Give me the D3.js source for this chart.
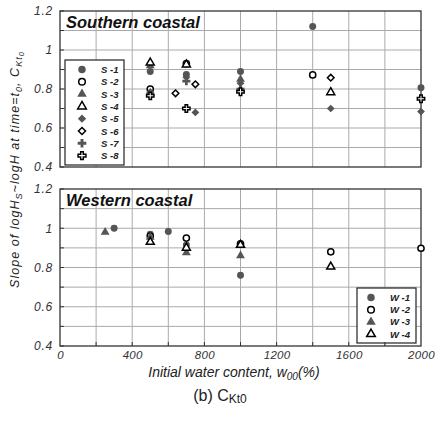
<!DOCTYPE html>
<html><head><meta charset="utf-8">
<script src="https://cdn.jsdelivr.net/npm/d3@7"></script>
<style>
body{margin:0;background:#fff;}
svg{display:block;font-family:Arial,"Liberation Sans",sans-serif;}
</style></head>
<body><svg id="c" width="437" height="421"></svg>
<script>
// ---------- data ----------
const xTicks = [0, 400, 800, 1200, 1600, 2000];
const yTicks = [0.4, 0.6, 0.8, 1, 1.2];
const southNames = ["S-1","S-2","S-3","S-4","S-5","S-6","S-7","S-8"];
const S1 = [[500,0.89],[700,0.875],[1000,0.89],[1400,1.12],[2000,0.807]];
const S2 = [[500,0.80],[700,0.93],[1400,0.872]];
const S3 = [[500,0.92],[1000,0.85]];
const S4 = [[500,0.935],[700,0.925],[1500,0.783]];
const S5 = [[500,0.785],[700,0.86],[750,0.68],[1000,0.83],[1500,0.70],[2000,0.684]];
const S6 = [[640,0.778],[750,0.824],[1500,0.858]];
const S7 = [[500,0.775],[700,0.84],[1000,0.80],[2000,0.749]];
const S8 = [[500,0.765],[700,0.70],[1000,0.786],[2000,0.75]];
const westNames = ["W-1","W-2","W-3","W-4"];
const W1 = [[300,1.0],[500,0.97],[600,0.983],[700,0.915],[1000,0.76]];
const W2 = [[500,0.96],[700,0.95],[1000,0.92],[1500,0.88],[2000,0.898]];
const W3 = [[250,0.98],[500,0.955],[700,0.875],[1000,0.86]];
const W4 = [[500,0.93],[700,0.90],[1000,0.915],[1500,0.804]];

// ---------- styles ----------
const FILL = "#555";
const squareDiamond = {
  draw(ctx, size){
    const r = Math.sqrt(size/2);
    ctx.moveTo(0,-r); ctx.lineTo(r,0); ctx.lineTo(0,r); ctx.lineTo(-r,0); ctx.closePath();
  }
};
const markerStyle = {
  "S-1":{t:d3.symbolCircle,s:38,f:FILL,st:"none"},
  "S-2":{t:d3.symbolCircle,s:30,f:"#fff",st:"#000"},
  "S-3":{t:d3.symbolTriangle,s:34,f:FILL,st:"none"},
  "S-4":{t:d3.symbolTriangle,s:28,f:"#fff",st:"#000"},
  "S-5":{t:squareDiamond,s:30,f:FILL,st:"none"},
  "S-6":{t:squareDiamond,s:22,f:"#fff",st:"#000"},
  "S-7":{t:d3.symbolCross,s:36,f:FILL,st:"none"},
  "S-8":{t:d3.symbolCross,s:30,f:"#fff",st:"#000"},
  "W-1":{t:d3.symbolCircle,s:38,f:FILL,st:"none"},
  "W-2":{t:d3.symbolCircle,s:30,f:"#fff",st:"#000"},
  "W-3":{t:d3.symbolTriangle,s:34,f:FILL,st:"none"},
  "W-4":{t:d3.symbolTriangle,s:28,f:"#fff",st:"#000"}
};

const svg = d3.select("#c");
const X0 = 60, X1 = 421;
const x = d3.scaleLinear().domain([0,2000]).range([X0,X1]);

function panel(top, bottom, title, names, data, legendBox){
  const y = d3.scaleLinear().domain([0.4,1.2]).range([bottom, top]);
  const g = svg.append("g");
  // grid
  const hg = d3.range(5,12).map(v=>v/10);
  g.selectAll(".hg").data(hg).join("line")
    .attr("x1",X0).attr("x2",X1).attr("y1",d=>y(d)).attr("y2",d=>y(d))
    .attr("stroke","#aaa").attr("stroke-width",1);
  g.selectAll(".vg").data(d3.range(200,2000,200)).join("line")
    .attr("y1",top).attr("y2",bottom).attr("x1",d=>x(d)).attr("x2",d=>x(d))
    .attr("stroke","#aaa").attr("stroke-width",1);
  // border
  g.append("rect").attr("x",X0).attr("y",top).attr("width",X1-X0).attr("height",bottom-top)
    .attr("fill","none").attr("stroke","#333").attr("stroke-width",1.3);
  // y axis
  const ya = d3.axisLeft(y).tickValues(yTicks).tickSize(0).tickPadding(7).tickFormat(d3.format("~g"));
  const ag = g.append("g").attr("transform",`translate(${X0},0)`).call(ya);
  ag.select(".domain").remove();
  ag.selectAll("text").attr("font-size",12).attr("letter-spacing",0.8).attr("font-style","italic").attr("fill","#333")
    .attr("font-family","Arial,'Liberation Sans',sans-serif");
  // inner ticks
  g.selectAll(".it").data(d3.range(4,13).map(v=>v/10)).join("line")
    .attr("x1",X0).attr("x2",X0+4).attr("y1",d=>y(d)).attr("y2",d=>y(d)).attr("stroke","#333");
  // title
  g.append("text").attr("x",X0+6).attr("y",top+17).text(title)
    .attr("font-size",16.5).attr("font-weight","bold").attr("font-style","italic").attr("fill","#111");
  // points
  names.forEach((n,i)=>{
    const ms = markerStyle[n];
    g.selectAll(null).data(data[i]).join("path")
      .attr("d",d3.symbol().type(ms.t).size(ms.s))
      .attr("transform",d=>`translate(${x(d[0])},${y(d[1])})`)
      .attr("fill",ms.f).attr("stroke",ms.st).attr("stroke-width",1.5);
  });
  // legend
  const lb = legendBox;
  g.append("rect").attr("x",lb.x).attr("y",lb.y).attr("width",lb.w).attr("height",lb.h)
    .attr("fill","#fff").attr("stroke","#222").attr("stroke-width",1.2);
  names.forEach((n,i)=>{
    const ms = markerStyle[n];
    const yy = lb.y + lb.pad + i*lb.step;
    g.append("path").attr("d",d3.symbol().type(ms.t).size(ms.s*1.15))
      .attr("transform",`translate(${lb.x+lb.mx},${yy})`)
      .attr("fill",ms.f).attr("stroke",ms.st).attr("stroke-width",1.5);
    g.append("text").attr("x",lb.x+lb.tx).attr("y",yy+3.5).text(n.replace("-"," -"))
      .attr("font-size",9.5).attr("font-weight","bold").attr("font-style","italic").attr("fill","#222");
  });
  return y;
}

panel(11, 167, "Southern coastal", southNames, [S1,S2,S3,S4,S5,S6,S7,S8],
  {x:65,y:60,w:59,h:105,pad:9.5,step:12.3,mx:17,tx:36});
panel(189, 346, "Western coastal", westNames, [W1,W2,W3,W4],
  {x:357,y:288,w:59,h:55,pad:9.5,step:12.2,mx:14,tx:33});

// x axis
const xa = d3.axisBottom(x).tickValues(xTicks).tickSize(0).tickPadding(5).tickFormat(d3.format("d"));
const xg = svg.append("g").attr("transform","translate(0,346)").call(xa);
xg.select(".domain").remove();
xg.selectAll("text").attr("font-size",11.5).attr("letter-spacing",0.3).attr("font-style","italic").attr("fill","#333")
  .attr("font-family","Arial,'Liberation Sans',sans-serif");
svg.selectAll(".it2").data(d3.range(200,2000,200)).join("line")
  .attr("x1",d=>x(d)).attr("x2",d=>x(d)).attr("y1",346).attr("y2",342).attr("stroke","#333");

// x title
const xt = svg.append("text").attr("x",234).attr("y",377).attr("text-anchor","middle")
  .attr("font-size",14).attr("font-style","italic").attr("fill","#222");
xt.append("tspan").text("Initial water content, w");
xt.append("tspan").text("00").attr("font-size",10).attr("dy",3);
xt.append("tspan").text("(%)").attr("dy",-3);

// y title: starts at bottom (y=288) and runs upward
const yt = svg.append("text").attr("transform","translate(19,288) rotate(-90)").attr("text-anchor","start")
  .attr("font-size",12.5).attr("font-style","italic").attr("fill","#222");
yt.append("tspan").text("Slope of logH");
yt.append("tspan").text("S").attr("font-size",9).attr("dy",3);
yt.append("tspan").text("~logH at time=t").attr("dy",-3);
yt.append("tspan").text("0").attr("font-size",9).attr("dy",3);
yt.append("tspan").text(",  C").attr("dy",-3);
yt.append("tspan").text("Kt").attr("font-size",9).attr("dy",3);
yt.append("tspan").text("0").attr("font-size",7.5).attr("dy",2);
// fit to the reference length (~238px)
const L = yt.node().getComputedTextLength();
const nChars = yt.text().length;
if (L > 0 && L < 238) yt.attr("letter-spacing", (238 - L) / nChars);
else if (L > 238) yt.attr("font-size", 12.5 * 238 / L);

// caption
const cap = svg.append("text").attr("x",220).attr("y",401).attr("text-anchor","middle")
  .attr("font-size",16).attr("fill","#222");
cap.append("tspan").text("(b)  C");
cap.append("tspan").text("Kt0").attr("font-size",12).attr("dy",2);
</script></body></html>
